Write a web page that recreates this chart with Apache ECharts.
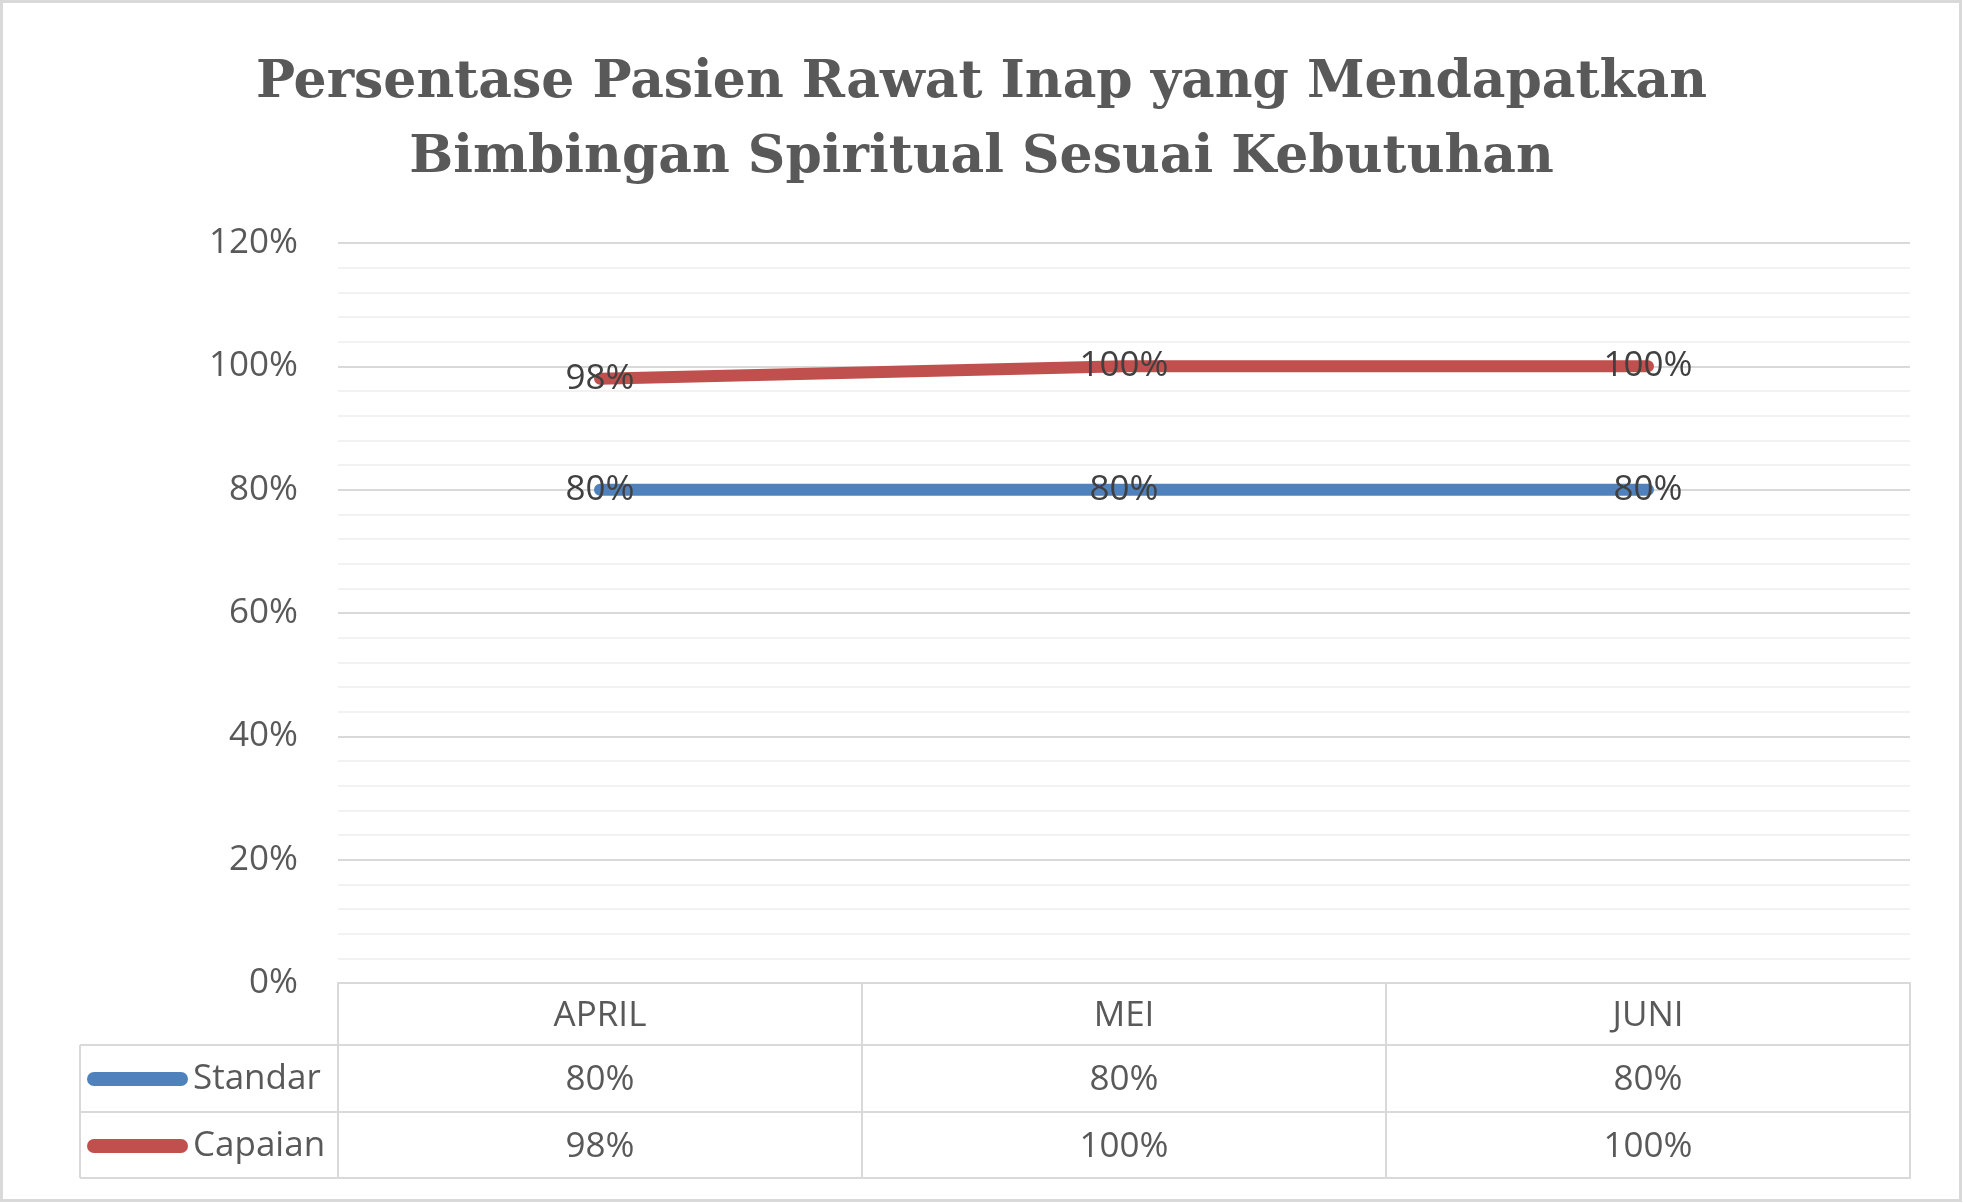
<!DOCTYPE html>
<html>
<head>
<meta charset="utf-8">
<title>Persentase Pasien Rawat Inap</title>
<script src="https://cdn.jsdelivr.net/npm/echarts@6/dist/echarts.min.js"></script>
<style>
  html, body { margin: 0; padding: 0; background: #fff; }
  #chart { width: 1963px; height: 1203px; }
</style>
</head>
<body>
<div id="chart"></div>
<script>
  // data
  var months = ['APRIL', 'MEI', 'JUNI']
  var standar = [80, 80, 80]
  var capaian = [98, 100, 100]
  var seriesNames = ['Standar', 'Capaian']
  var titleText = 'Persentase Pasien Rawat Inap yang Mendapatkan\nBimbingan Spiritual Sesuai Kebutuhan'

  var grey = '#595959'
  var border = '#d9d9d9'
  var font = 'Open Sans'
  // pill icon for legend
  var pill = 'path://M7,0 H94 A7,7 0 0 1 94,14 H7 A7,7 0 0 1 7,0 Z'

  var chart = echarts.init(document.getElementById('chart'))

  // extra x axes act as the rows of the data table
  function rowAxis (offset, values) {
    return {
      type: 'category',
      data: months,
      position: 'bottom',
      offset: offset,
      axisLine: { show: true, lineStyle: { color: border, width: 2 } },
      axisTick: { show: false },
      splitLine: { show: false },
      axisLabel: {
        show: !!values,
        margin: 35,
        verticalAlign: 'middle',
        fontFamily: font,
        fontSize: 35,
        color: grey,
        formatter: function (v, i) { return values ? values[i] + '%' : '' }
      }
    }
  }

  chart.setOption({
    backgroundColor: '#fff',
    title: {
      text: titleText,
      left: 'center',
      top: 46,
      padding: 0,
      textStyle: {
        fontFamily: 'DejaVu Serif',
        fontWeight: 'bold',
        fontSize: 52,
        lineHeight: 75,
        color: grey
      }
    },
    legend: {
      data: seriesNames,
      orient: 'vertical',
      left: 87,
      top: 1059,
      padding: 0,
      icon: pill,
      itemWidth: 101,
      itemHeight: 14,
      itemGap: 27,
      selectedMode: false,
      textStyle: { fontFamily: font, fontSize: 35, color: grey, lineHeight: 40 }
    },
    grid: { left: 338, right: 53, top: 243, bottom: 220 },
    xAxis: [
      {
        type: 'category',
        data: months,
        boundaryGap: true,
        axisLine: { show: true, lineStyle: { color: border, width: 2 } },
        axisTick: { show: true, alignWithLabel: false, interval: 0, length: 195, lineStyle: { color: border, width: 2 } },
        axisLabel: { margin: 33, verticalAlign: 'middle', fontFamily: font, fontSize: 35, color: grey }
      },
      rowAxis(62, standar),
      rowAxis(129, capaian),
      rowAxis(195, null)
    ],
    yAxis: {
      type: 'value',
      min: 0,
      max: 120,
      interval: 20,
      axisLine: { show: false },
      axisTick: { show: false },
      axisLabel: { margin: 40, padding: [4, 0, 0, 0], fontFamily: font, fontSize: 35, color: grey, formatter: '{value}%' },
      splitLine: { lineStyle: { color: border, width: 2 } },
      minorTick: { show: false, splitNumber: 5 },
      minorSplitLine: { show: true, lineStyle: { color: '#f2f2f2', width: 2 } }
    },
    graphic: [
      { type: 'rect', shape: { x: 1.5, y: 1.5, width: 1959, height: 1199 }, style: { fill: null, stroke: border, lineWidth: 3 }, silent: true },
      { type: 'line', shape: { x1: 80, y1: 1045, x2: 338, y2: 1045 }, style: { stroke: border, lineWidth: 2 } },
      { type: 'line', shape: { x1: 80, y1: 1112, x2: 338, y2: 1112 }, style: { stroke: border, lineWidth: 2 } },
      { type: 'line', shape: { x1: 80, y1: 1178, x2: 338, y2: 1178 }, style: { stroke: border, lineWidth: 2 } },
      { type: 'line', shape: { x1: 80, y1: 1045, x2: 80, y2: 1178 }, style: { stroke: border, lineWidth: 2 } }
    ],
    series: [
      {
        name: seriesNames[0],
        type: 'line',
        data: standar,
        symbol: 'circle',
        symbolSize: 1,
        itemStyle: { color: '#4f81bd' },
        lineStyle: { color: '#4f81bd', width: 12, cap: 'round' },
        label: { show: true, position: 'inside', formatter: '{c}%', fontFamily: font, fontSize: 35, color: '#404040' },
        z: 3
      },
      {
        name: seriesNames[1],
        type: 'line',
        data: capaian,
        symbol: 'circle',
        symbolSize: 1,
        itemStyle: { color: '#c0504d' },
        lineStyle: { color: '#c0504d', width: 12, cap: 'round' },
        label: { show: true, position: 'inside', formatter: '{c}%', fontFamily: font, fontSize: 35, color: '#404040' },
        z: 4
      }
    ]
  })
</script>
</body>
</html>
